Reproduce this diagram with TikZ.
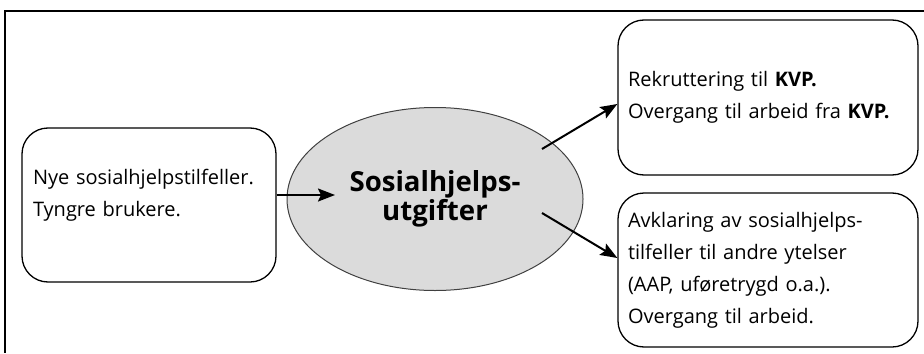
\documentclass[tikz,border=0pt]{standalone}
\usepackage{fontspec}
\setmainfont{Open Sans}
\usetikzlibrary{shapes.geometric,arrows.meta}

\begin{document}
\begin{tikzpicture}[x = 0.5pt, y = -0.5pt,
  boks/.style = {draw, line width = 0.65pt, rounded corners = 13pt, align = left,
    font = \fontsize{10}{16}\selectfont},
  pil/.style = {line width = 1pt, -{Stealth[length = 8.5pt, width = 6.5pt, inset = 1.5pt]}}]
\useasboundingbox (0,0) rectangle (924,353);
% ramme
\draw [line width = 1.2pt] (924,11) -- (5,11) -- (5,353);
% bokser
\node [boks, text width = 116pt, inner xsep = 5.5pt, minimum width = 127pt,
  minimum height = 77pt, text depth = 28.5pt]
  (nye) at (149,205) {Nye sosialhjelpstilfeller.\\Tyngre brukere.};
\node [draw = black!75, line width = 0.5pt, fill = black!14, ellipse, inner sep = 0pt,
  minimum width = 148pt, minimum height = 91.5pt, align = center,
  font = \fontsize{13.8}{14.3}\selectfont\bfseries]
  (utg) at (435,199) {Sosialhjelps-\\utgifter};
\node [boks, text width = 140pt, inner xsep = 5pt, minimum width = 150pt,
  minimum height = 77.5pt]
  (kvp) at (768,97.5) {Rekruttering til \textbf{KVP.}\\Overgang til arbeid fra \textbf{KVP.}};
\node [boks, text width = 140pt, inner xsep = 5pt, minimum width = 150pt,
  minimum height = 77pt]
  (avkl) at (768,270) {Avklaring av sosialhjelps-\\tilfeller til andre ytelser\\(AAP, uføretrygd o.a.).\\Overgang til arbeid.};
% piler
\coordinate (inn) at (335,195);
\coordinate (ut1) at (542,149);
\coordinate (ut2) at (542,213);
\coordinate (mot1) at (610,104);
\coordinate (mot2) at (610,258);
\draw [pil] (nye.east |- inn) -- (inn);
\draw [pil] (ut1) -- (kvp.west |- mot1);
\draw [pil] (ut2) -- (avkl.west |- mot2);
\end{tikzpicture}
\end{document}
